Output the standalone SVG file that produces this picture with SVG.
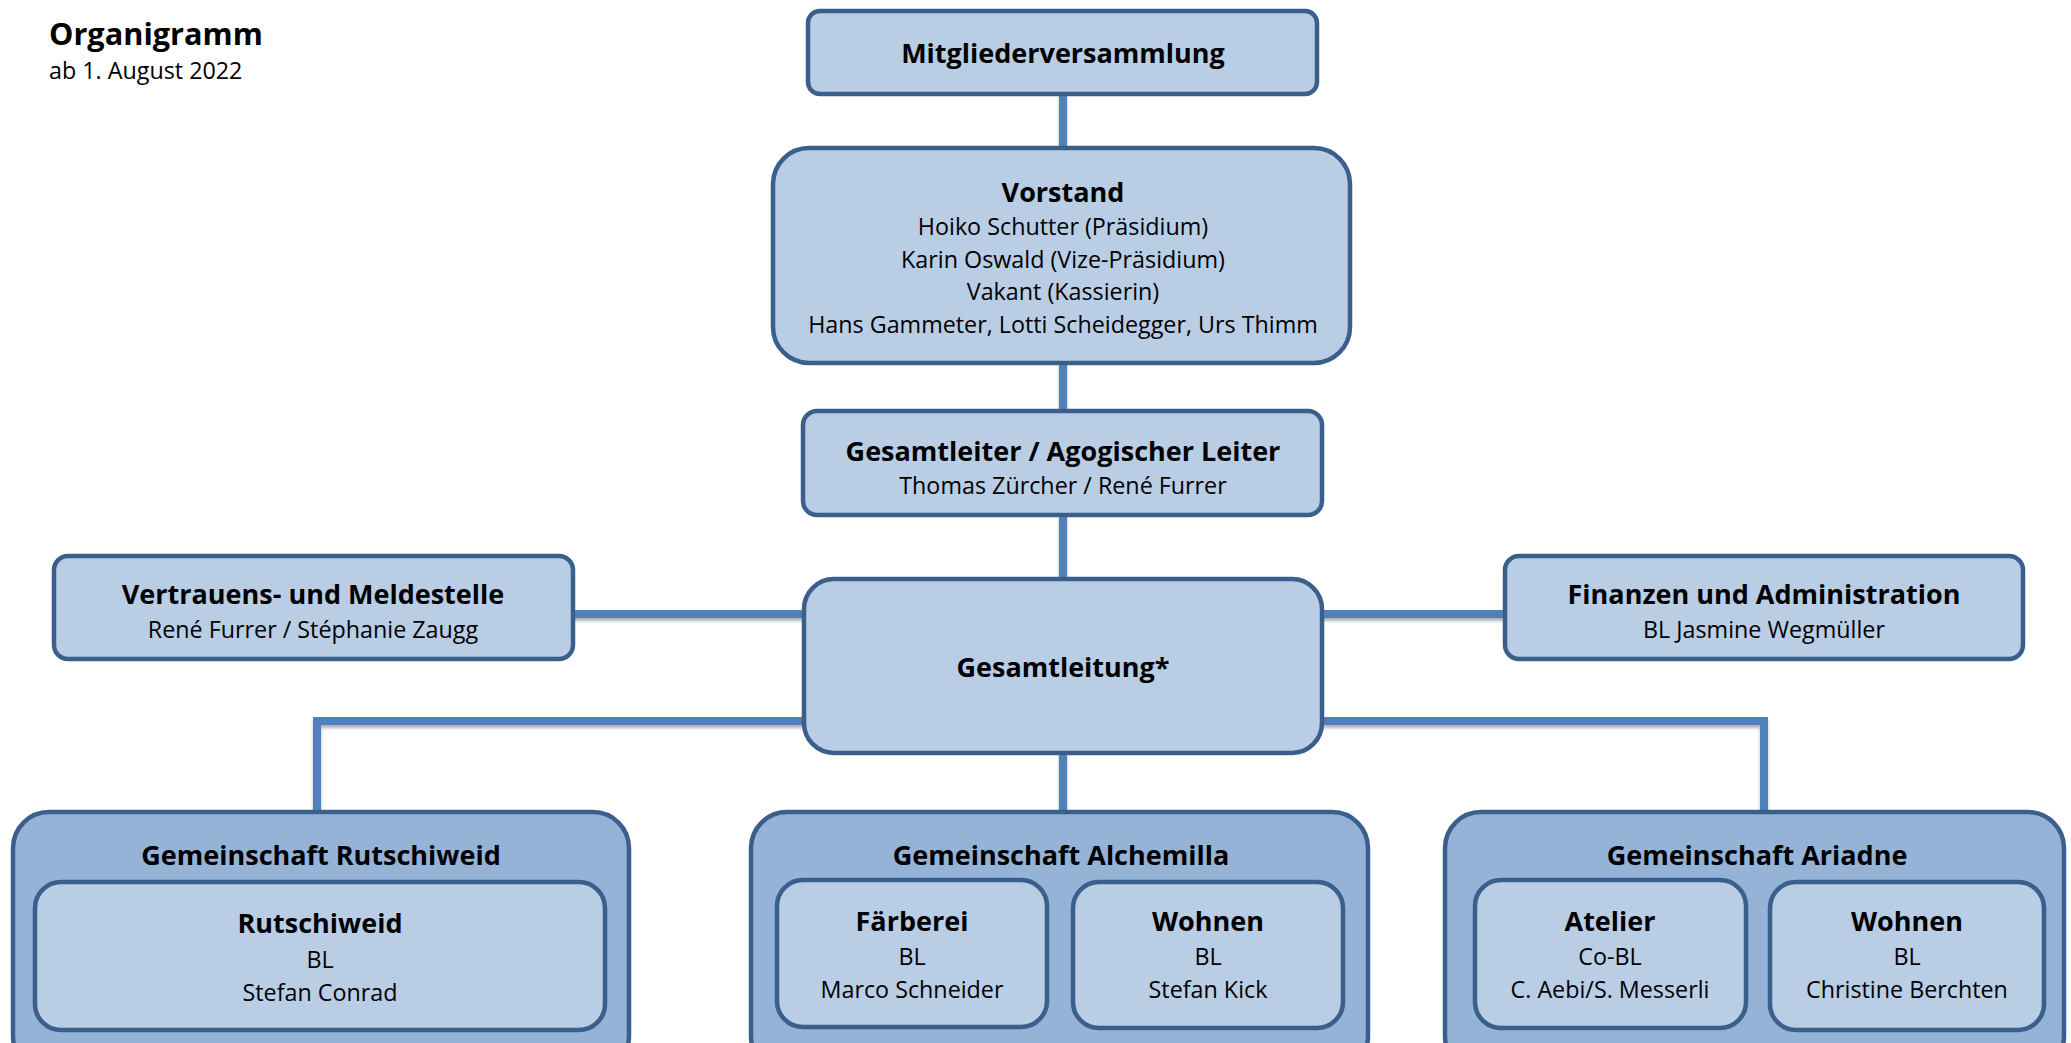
<svg xmlns="http://www.w3.org/2000/svg" width="2071" height="1043" viewBox="0 0 2071 1043">
<defs>
<filter id="sh" x="-5%" y="-50%" width="110%" height="200%">
<feDropShadow dx="0" dy="3" stdDeviation="1.5" flood-color="#000" flood-opacity="0.3"/>
</filter>
<style>
.box{fill:#B9CDE5;stroke:#3A5F8B;stroke-width:4.5}
.outer{fill:#95B3D7;stroke:#3A5F8B;stroke-width:4.5}
.con{fill:none;stroke:#4F81BD;stroke-width:8}
text{font-family:"Open Sans","Liberation Sans",sans-serif;fill:#000;text-anchor:middle}
.h{font-weight:bold;font-size:27px}
.r{font-size:23.3px}
</style>
</defs>
<rect width="2071" height="1043" fill="#fff"/>
<g id="title">
<text x="49" y="45" style="text-anchor:start;font-weight:bold;font-size:30.7px">Organigramm</text>
<text x="49" y="79" style="text-anchor:start;font-size:23.3px">ab 1. August 2022</text>
</g>
<g id="connectors" filter="url(#sh)">
<path class="con" d="M1063 94V148"/>
<path class="con" d="M1063 363V411"/>
<path class="con" d="M1063 515V579"/>
<path class="con" d="M573 614H804"/>
<path class="con" d="M1322 614H1505"/>
<path class="con" d="M804 721H317V812"/>
<path class="con" d="M1322 721H1764V812"/>
<path class="con" d="M1063 753V812"/>
</g>
<g id="mitglieder">
<rect class="box" x="808" y="11" width="509" height="83" rx="12"/>
<text class="h" x="1063" y="63">Mitgliederversammlung</text>
</g>
<g id="vorstand">
<rect class="box" x="773" y="148" width="577" height="215" rx="36"/>
<text class="h" x="1063" y="202">Vorstand</text>
<text class="r" x="1063" y="235">Hoiko Schutter (Präsidium)</text>
<text class="r" x="1063" y="268">Karin Oswald (Vize-Präsidium)</text>
<text class="r" x="1063" y="300">Vakant (Kassierin)</text>
<text class="r" x="1063" y="333">Hans Gammeter, Lotti Scheidegger, Urs Thimm</text>
</g>
<g id="gesamtleiter">
<rect class="box" x="803" y="411" width="519" height="104" rx="14"/>
<text class="h" x="1063" y="461">Gesamtleiter / Agogischer Leiter</text>
<text class="r" x="1063" y="494">Thomas Zürcher / René Furrer</text>
</g>
<g id="vertrauen">
<rect class="box" x="54" y="556" width="519" height="103" rx="14"/>
<text class="h" x="313" y="604">Vertrauens- und Meldestelle</text>
<text class="r" x="313" y="638">René Furrer / Stéphanie Zaugg</text>
</g>
<g id="gesamtleitung">
<rect class="box" x="804" y="579" width="518" height="174" rx="30"/>
<text class="h" x="1063" y="677">Gesamtleitung*</text>
</g>
<g id="finanzen">
<rect class="box" x="1505" y="556" width="518" height="103" rx="14"/>
<text class="h" x="1764" y="604">Finanzen und Administration</text>
<text class="r" x="1764" y="638">BL Jasmine Wegmüller</text>
</g>
<g id="rutschiweid">
<rect class="outer" x="13" y="812" width="616" height="260" rx="36"/>
<text class="h" x="321" y="865">Gemeinschaft Rutschiweid</text>
<g id="rutschiweid-inner">
<rect class="box" x="35" y="882" width="570" height="148" rx="26"/>
<text class="h" x="320" y="933">Rutschiweid</text>
<text class="r" x="320" y="968">BL</text>
<text class="r" x="320" y="1001">Stefan Conrad</text>
</g>
</g>
<g id="alchemilla">
<rect class="outer" x="751" y="812" width="617" height="260" rx="36"/>
<text class="h" x="1061" y="865">Gemeinschaft Alchemilla</text>
<g id="faerberei">
<rect class="box" x="777" y="880" width="270" height="147" rx="26"/>
<text class="h" x="912" y="931">Färberei</text>
<text class="r" x="912" y="965">BL</text>
<text class="r" x="912" y="998">Marco Schneider</text>
</g>
<g id="wohnen-alchemilla">
<rect class="box" x="1073" y="882" width="270" height="146" rx="26"/>
<text class="h" x="1208" y="931">Wohnen</text>
<text class="r" x="1208" y="965">BL</text>
<text class="r" x="1208" y="998">Stefan Kick</text>
</g>
</g>
<g id="ariadne">
<rect class="outer" x="1445" y="812" width="619" height="260" rx="36"/>
<text class="h" x="1757" y="865">Gemeinschaft Ariadne</text>
<g id="atelier">
<rect class="box" x="1475" y="880" width="271" height="148" rx="26"/>
<text class="h" x="1610" y="931">Atelier</text>
<text class="r" x="1610" y="965">Co-BL</text>
<text class="r" x="1610" y="998">C. Aebi/S. Messerli</text>
</g>
<g id="wohnen-ariadne">
<rect class="box" x="1770" y="882" width="274" height="148" rx="26"/>
<text class="h" x="1907" y="931">Wohnen</text>
<text class="r" x="1907" y="965">BL</text>
<text class="r" x="1907" y="998">Christine Berchten</text>
</g>
</g>
</svg>
